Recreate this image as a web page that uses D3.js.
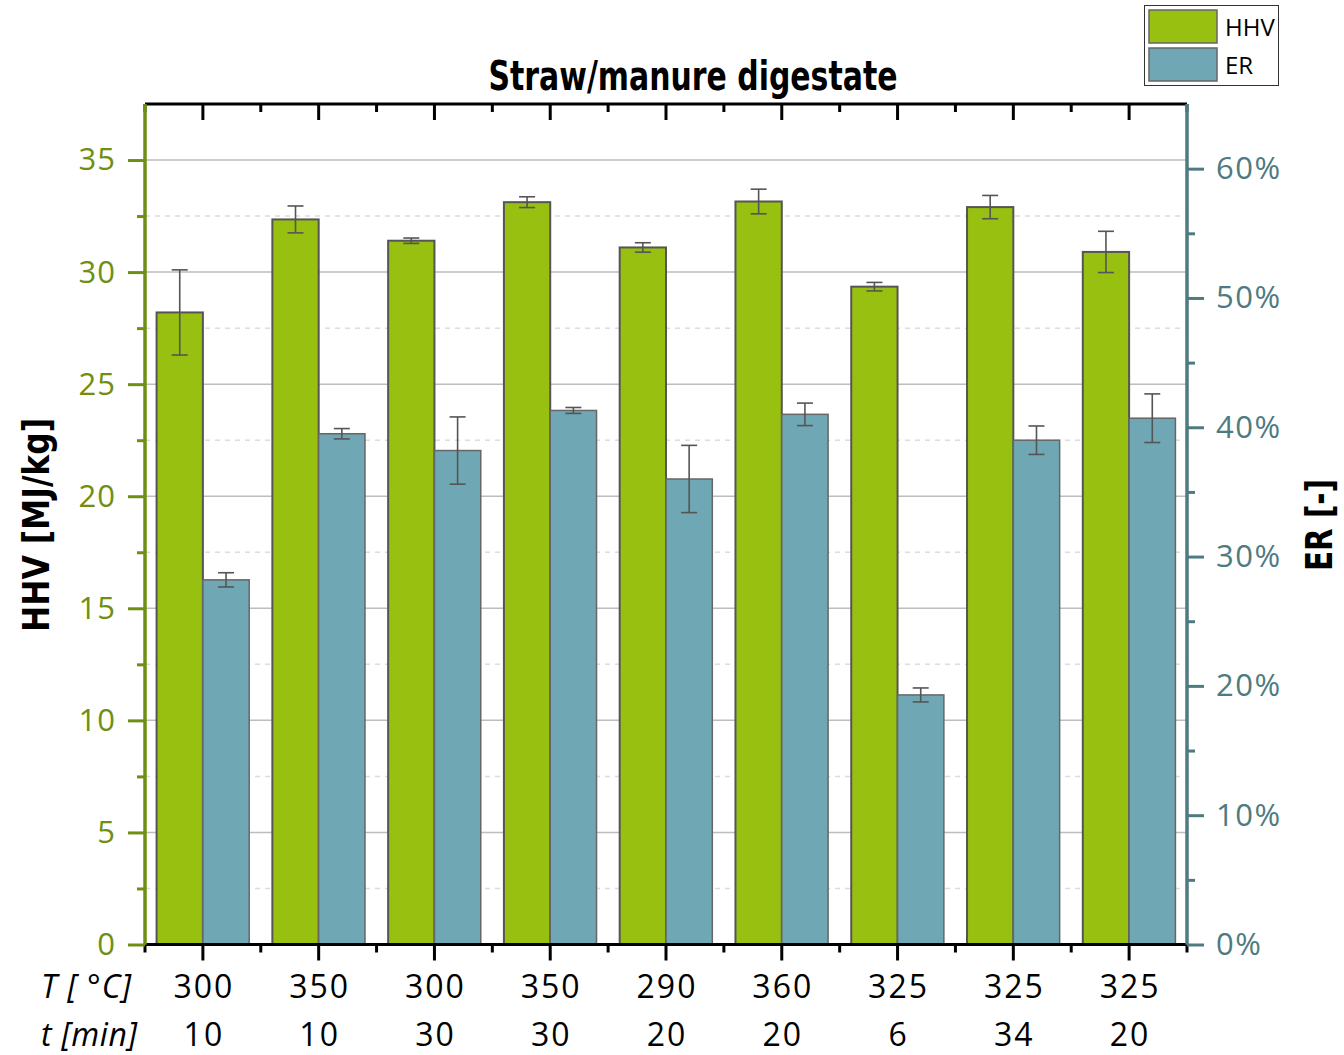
<!DOCTYPE html>
<html>
<head>
<meta charset="utf-8">
<script src="https://cdn.jsdelivr.net/npm/d3@7"></script>
<style>
  html, body { margin: 0; padding: 0; background: #fff; }
  svg { display: block; }
</style>
</head>
<body>
<svg id="chart" width="1344" height="1055"></svg>
<script>
// Process conditions per run
const temperatures = [300, 350, 300, 350, 290, 360, 325, 325, 325];
const times = [10, 10, 30, 30, 20, 20, 6, 34, 20];

// Higher heating value [MJ/kg] with standard deviation
const hhv = [28.2, 32.35, 31.4, 33.12, 31.1, 33.15, 29.35, 32.9, 30.9];
const hhvErr = [1.9, 0.6, 0.12, 0.24, 0.21, 0.55, 0.19, 0.52, 0.92];

// Energy recovery [-] with standard deviation
const er = [0.282, 0.395, 0.382, 0.413, 0.36, 0.41, 0.193, 0.39, 0.407];
const erErr = [0.0055, 0.004, 0.026, 0.0023, 0.026, 0.0087, 0.0054, 0.011, 0.0188];

// Axis tick values
const hhvTicks = [0, 5, 10, 15, 20, 25, 30, 35];
const hhvMinorTicks = [2.5, 7.5, 12.5, 17.5, 22.5, 27.5, 32.5];
const erTicks = [0, 0.1, 0.2, 0.3, 0.4, 0.5, 0.6];
const erMinorTicks = [0.05, 0.15, 0.25, 0.35, 0.45, 0.55];

const seriesNames = ["HHV", "ER"];
const colors = { HHV: "#98c010", ER: "#6fa8b4" };
const leftAxisColor = "#6f8f14";
const rightAxisColor = "#4e7b81";

const svg = d3.select("#chart");
const margin = { left: 145, right: 1187, top: 104, bottom: 944.5 };

const runs = d3.range(temperatures.length);
const x = d3.scaleBand().domain(runs).range([margin.left, margin.right])
  .paddingInner(0.2).paddingOuter(0.1);
const xSub = d3.scaleBand().domain(seriesNames).range([0, x.bandwidth()]);
const yL = d3.scaleLinear().domain([0, 37.5]).range([margin.bottom, margin.top]);
const yR = d3.scaleLinear().domain([0, 0.65]).range([margin.bottom, margin.top]);

const numFont = "'Open Sans', 'DejaVu Sans', sans-serif";
const boldFont = "'Liberation Sans Narrow', 'DejaVu Sans Condensed', 'Liberation Sans', sans-serif";

// Grid lines
const grid = svg.append("g");
grid.selectAll("line.major").data(hhvTicks.filter(d => d > 0)).join("line")
  .attr("x1", margin.left).attr("x2", margin.right)
  .attr("y1", d => yL(d)).attr("y2", d => yL(d))
  .attr("stroke", "#bdbdbd").attr("stroke-width", 1.5);
grid.selectAll("line.minor").data(hhvMinorTicks).join("line")
  .attr("x1", margin.left).attr("x2", margin.right)
  .attr("y1", d => yL(d)).attr("y2", d => yL(d))
  .attr("stroke", "#dcdcdc").attr("stroke-width", 1.5).attr("stroke-dasharray", "5,5");

// Bars
const rows = runs.map(i => ({ i, hhv: hhv[i], hhvErr: hhvErr[i], er: er[i], erErr: erErr[i] }));
const bars = svg.append("g");
bars.selectAll("rect.hhv").data(rows).join("rect")
  .attr("x", d => x(d.i) + xSub("HHV"))
  .attr("y", d => yL(d.hhv))
  .attr("width", xSub.bandwidth())
  .attr("height", d => yL(0) - yL(d.hhv))
  .attr("fill", colors.HHV).attr("stroke", "#555").attr("stroke-width", 2);
bars.selectAll("rect.er").data(rows).join("rect")
  .attr("x", d => x(d.i) + xSub("ER"))
  .attr("y", d => yR(d.er))
  .attr("width", xSub.bandwidth())
  .attr("height", d => yR(0) - yR(d.er))
  .attr("fill", colors.ER).attr("stroke", "#666").attr("stroke-width", 1.5);

// Error bars
function errorBars(data, cx, yTop, yBot) {
  const g = svg.append("g").attr("stroke", "#555").attr("stroke-width", 1.6);
  const cap = 8;
  data.forEach(d => {
    const c = cx(d), t = yTop(d), b = yBot(d);
    g.append("line").attr("x1", c).attr("x2", c).attr("y1", t).attr("y2", b);
    g.append("line").attr("x1", c - cap).attr("x2", c + cap).attr("y1", t).attr("y2", t);
    g.append("line").attr("x1", c - cap).attr("x2", c + cap).attr("y1", b).attr("y2", b);
  });
}
errorBars(rows, d => x(d.i) + xSub("HHV") + xSub.bandwidth() / 2,
  d => yL(d.hhv + d.hhvErr), d => yL(d.hhv - d.hhvErr));
errorBars(rows, d => x(d.i) + xSub("ER") + xSub.bandwidth() / 2,
  d => yR(d.er + d.erErr), d => yR(d.er - d.erErr));

// Top and bottom frame with category ticks
const step = x.step();
const x0 = margin.left;
const boundaries = d3.range(temperatures.length + 1).map(k => x0 + k * step);
const centers = runs.map(i => x(i) + x.bandwidth() / 2);

const frame = svg.append("g").attr("stroke", "#000").attr("stroke-width", 3);
frame.append("line").attr("x1", margin.left).attr("x2", margin.right)
  .attr("y1", margin.top).attr("y2", margin.top);
frame.append("line").attr("x1", margin.left).attr("x2", margin.right)
  .attr("y1", margin.bottom).attr("y2", margin.bottom);
centers.forEach(c => {
  frame.append("line").attr("x1", c).attr("x2", c).attr("y1", margin.top).attr("y2", margin.top + 16);
  frame.append("line").attr("x1", c).attr("x2", c).attr("y1", margin.bottom).attr("y2", margin.bottom + 16);
});
boundaries.forEach(b => {
  frame.append("line").attr("x1", b).attr("x2", b).attr("y1", margin.top).attr("y2", margin.top + 8);
  frame.append("line").attr("x1", b).attr("x2", b).attr("y1", margin.bottom).attr("y2", margin.bottom + 8);
});

// Left axis (HHV)
const left = svg.append("g").attr("transform", `translate(${margin.left},0)`);
left.call(d3.axisLeft(yL).tickValues(hhvTicks).tickSize(17).tickPadding(12).tickFormat(d3.format("d")));
left.append("g").call(d3.axisLeft(yL).tickValues(hhvMinorTicks).tickSize(8).tickFormat(""));
left.selectAll(".domain").attr("stroke", leftAxisColor).attr("stroke-width", 3)
  .attr("d", `M0,${margin.top}V${margin.bottom}`);
left.selectAll(".tick line").attr("stroke", leftAxisColor).attr("stroke-width", 3);
left.selectAll(".tick text").attr("fill", leftAxisColor)
  .style("font-family", numFont).style("font-size", "31px").style("letter-spacing", "1px");

// Right axis (ER)
const right = svg.append("g").attr("transform", `translate(${margin.right},0)`);
right.call(d3.axisRight(yR).tickValues(erTicks).tickSize(17).tickPadding(12).tickFormat(d3.format(".0%")));
right.append("g").call(d3.axisRight(yR).tickValues(erMinorTicks).tickSize(8).tickFormat(""));
right.selectAll(".domain").attr("stroke", rightAxisColor).attr("stroke-width", 3)
  .attr("d", `M0,${margin.top}V${margin.bottom}`);
right.selectAll(".tick line").attr("stroke", rightAxisColor).attr("stroke-width", 3);
right.selectAll(".tick text").attr("fill", rightAxisColor)
  .style("font-family", numFont).style("font-size", "31px").style("letter-spacing", "1.5px");

// Category labels: temperature and time rows
const labels = svg.append("g").style("font-family", numFont).style("font-size", "32px")
  .style("letter-spacing", "2px").attr("fill", "#000").attr("text-anchor", "middle");
labels.selectAll("text.t").data(runs).join("text")
  .attr("x", i => centers[i] + 1).attr("y", 998).text(i => temperatures[i]);
labels.selectAll("text.m").data(runs).join("text")
  .attr("x", i => centers[i] + 1).attr("y", 1046).text(i => times[i]);
labels.append("text").attr("x", 86).attr("y", 998).style("font-style", "italic").style("letter-spacing", "0px")
  .attr("textLength", 90).attr("lengthAdjust", "spacing").text("T [ °C]");
labels.append("text").attr("x", 89).attr("y", 1046).style("font-style", "italic").style("letter-spacing", "0px")
  .attr("textLength", 96).attr("lengthAdjust", "spacing").text("t [min]");

// Title
svg.append("text").attr("x", 693).attr("y", 90).attr("text-anchor", "middle")
  .style("font-family", boldFont).style("font-weight", "bold").style("font-size", "40px")
  .attr("textLength", 409).attr("lengthAdjust", "spacingAndGlyphs")
  .text("Straw/manure digestate");

// Axis titles
svg.append("text").attr("transform", "translate(49,525) rotate(-90)").attr("text-anchor", "middle")
  .style("font-family", boldFont).style("font-weight", "bold").style("font-size", "38px")
  .attr("textLength", 214).attr("lengthAdjust", "spacingAndGlyphs")
  .text("HHV [MJ/kg]");
svg.append("text").attr("transform", "translate(1332,525) rotate(-90)").attr("text-anchor", "middle")
  .style("font-family", boldFont).style("font-weight", "bold").style("font-size", "38px")
  .attr("textLength", 92).attr("lengthAdjust", "spacingAndGlyphs")
  .text("ER [-]");

// Legend
const legend = svg.append("g");
legend.append("rect").attr("x", 1144.5).attr("y", 5.5).attr("width", 134).attr("height", 80)
  .attr("fill", "#fff").attr("stroke", "#333").attr("stroke-width", 1);
seriesNames.forEach((name, k) => {
  legend.append("rect").attr("x", 1149).attr("y", 10 + k * 38).attr("width", 68).attr("height", 33)
    .attr("fill", colors[name]).attr("stroke", "#666").attr("stroke-width", 1.5);
  legend.append("text").attr("x", 1225).attr("y", 36 + k * 38)
    .style("font-family", numFont).style("font-size", "24px").attr("fill", "#000").text(name);
});
</script>
</body>
</html>
